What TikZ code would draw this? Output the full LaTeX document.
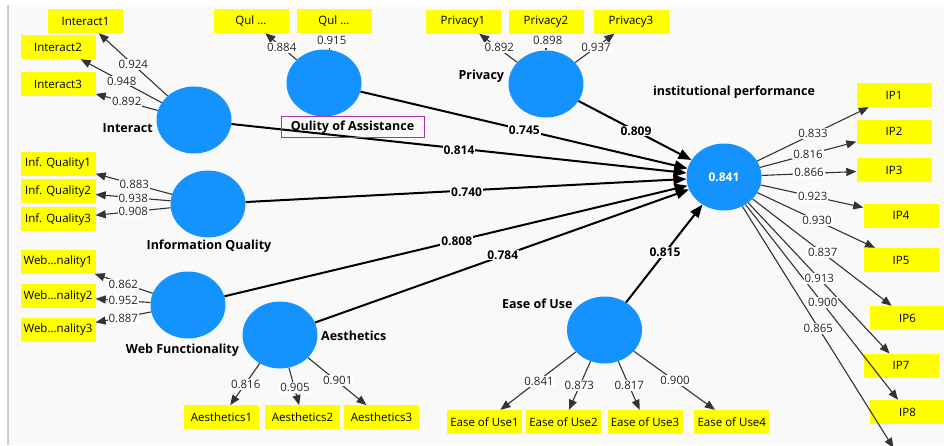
\documentclass[tikz,border=0pt]{standalone}
\usepackage{fontspec}
\setmainfont{Open Sans}
\usetikzlibrary{shapes.geometric,arrows.meta}
\definecolor{lvblue}{RGB}{20,147,255}
\definecolor{bggray}{RGB}{249,249,249}
\definecolor{framegray}{RGB}{205,205,205}
\definecolor{purp}{RGB}{165,50,170}
\definecolor{indyellow}{RGB}{255,255,0}
\begin{document}
\begin{tikzpicture}[x=1pt,y=-1pt,
  lv/.style={ellipse, fill=lvblue, minimum width=75pt, minimum height=67pt, inner sep=0pt},
  ind/.style={fill=indyellow, minimum width=75pt, minimum height=24pt, inner sep=0pt, font=\fontsize{11.5}{13}\selectfont},
  ldl/.style={fill=white, inner sep=1pt, font=\fontsize{11.5}{13}\selectfont, text=black!85},
  pcl/.style={fill=white, inner sep=1pt, font=\bfseries\fontsize{12}{14}\selectfont},
  ttl/.style={font=\bfseries\fontsize{12.5}{14}\selectfont, inner sep=0pt},
  ldar/.style={-{Triangle[length=10pt,width=8pt]}, line width=1.1pt, draw=black!80},
  star/.style={-{Triangle[length=13pt,width=10pt]}, line width=2pt, draw=black}
]
\useasboundingbox (0,0) rectangle (944,445);
\fill[white] (0,0) rectangle (944,445);
\fill[bggray] (8,5) rectangle (944,445);
\draw[framegray, line width=1.2pt] (8,5) -- (8,445);

% latent variables
\node[lv] (int)  at (194,120) {};
\node[lv] (qoa)  at (324,83) {};
\node[lv] (priv) at (546,84) {};
\node[lv] (ip)   at (724,177) {\textcolor{white}{\bfseries\fontsize{12}{14}\selectfont 0.841}};
\node[lv] (iq)   at (208,204) {};
\node[lv] (wf)   at (188,305) {};
\node[lv] (aes)  at (280,335) {};
\node[lv] (eou)  at (604.5,330) {};

% indicators
\node[ind] (i1) at (85.5,21) {Interact1};
\node[ind] (i2) at (58,47) {Interact2};
\node[ind] (i3) at (58,84) {Interact3};
\node[ind] (q1) at (251,21) {Qul ...};
\node[ind] (q2) at (334,21) {Qul ...};
\node[ind] (p1) at (463,21.5) {Privacy1};
\node[ind] (p2) at (546,21.5) {Privacy2};
\node[ind] (p3) at (631,21.5) {Privacy3};
\node[ind] (iq1) at (58,163.7) {Inf. Quality1};
\node[ind] (iq2) at (58,191.3) {Inf. Quality2};
\node[ind] (iq3) at (58,219) {Inf. Quality3};
\node[ind] (w1) at (58,261.7) {Web...nality1};
\node[ind] (w2) at (58,296.3) {Web...nality2};
\node[ind] (w3) at (58,329.5) {Web...nality3};
\node[ind] (a1) at (221.5,417.3) {Aesthetics1};
\node[ind] (a2) at (302.5,417.3) {Aesthetics2};
\node[ind] (a3) at (381.5,417.3) {Aesthetics3};
\node[ind] (e1) at (484.5,422) {Ease of Use1};
\node[ind] (e2) at (563.5,422) {Ease of Use2};
\node[ind] (e3) at (645,422) {Ease of Use3};
\node[ind] (e4) at (731.8,422) {Ease of Use4};
\node[ind] (ip1) at (894,95) {IP1};
\node[ind] (ip2) at (894,131.7) {IP2};
\node[ind] (ip3) at (894,170) {IP3};
\node[ind] (ip4) at (901,215.7) {IP4};
\node[ind] (ip5) at (901,260) {IP5};
\node[ind] (ip6) at (907.5,318) {IP6};
\node[ind] (ip7) at (901,365.7) {IP7};
\node[ind] (ip8) at (907.5,412) {IP8};
\coordinate (ip9) at (893.5,448);

% loading arrows
\foreach \a/\b in {int/i1,int/i2,int/i3,qoa/q1,qoa/q2,priv/p1,priv/p2,priv/p3,
  iq/iq1,iq/iq2,iq/iq3,wf/w1,wf/w2,wf/w3,aes/a1,aes/a2,aes/a3,
  eou/e1,eou/e2,eou/e3,eou/e4,ip/ip1,ip/ip2,ip/ip3,ip/ip4,ip/ip5,ip/ip6,ip/ip7,ip/ip8,ip/ip9}
  \draw[ldar] (\a) -- (\b);

% structural arrows
\foreach \a in {int,qoa,priv,iq,wf,aes,eou}
  \draw[star] (\a) -- (ip);

% titles
\node[ttl] (tint) at (127.7,128.3) {Interact};
\node[ttl, draw=purp, line width=0.9pt, minimum width=143pt, minimum height=21pt] (tqoa) at (352.5,127.2) {Qulity of Assistance};
\node[ttl] (tpriv) at (481.3,76.7) {Privacy};
\node[ttl] (tip) at (734,92.7) {institutional performance};
\node[ttl] (tiq) at (209,246.7) {Information Quality};
\node[ttl] (twf) at (182.5,350) {Web Functionality};
\node[ttl] (taes) at (353.7,336) {Aesthetics};
\node[ttl] (teou) at (537.3,303.3) {Ease of Use};

% loading labels
\node[ldl] (l1) at (133.3,64.3) {0.924};
\node[ldl] (l2) at (121.7,81) {0.948};
\node[ldl] (l3) at (126.7,101.7) {0.892};
\node[ldl] (l4) at (281.7,47.3) {0.884};
\node[ldl, inner ysep=3pt] (l5) at (331.7,40.5) {0.915};
\node[ldl] (l6) at (499.3,47.3) {0.892};
\node[ldl, inner ysep=3pt] (l7) at (547.7,40.5) {0.898};
\node[ldl] (l8) at (596,47) {0.937};
\node[ldl] (l9) at (134.3,184.3) {0.883};
\node[ldl] (l10) at (133.3,198.3) {0.938};
\node[ldl] (l11) at (133.3,211.7) {0.908};
\node[ldl] (l12) at (123.3,284) {0.862};
\node[ldl] (l13) at (123.3,300.7) {0.952};
\node[ldl] (l14) at (123.3,318.3) {0.887};
\node[ldl] (l15) at (245.7,384.3) {0.816};
\node[ldl] (l16) at (295,387.3) {0.905};
\node[ldl] (l17) at (337.7,380.7) {0.901};
\node[ldl] (l18) at (539,381.7) {0.841};
\node[ldl] (l19) at (579.3,385.7) {0.873};
\node[ldl] (l20) at (629.3,385.7) {0.817};
\node[ldl] (l21) at (675,380.7) {0.900};
\node[ldl] (l22) at (813,133.3) {0.833};
\node[ldl] (l23) at (808,154) {0.816};
\node[ldl] (l24) at (809,172.3) {0.866};
\node[ldl] (l25) at (812.7,196.7) {0.923};
\node[ldl] (l26) at (817,220.7) {0.930};
\node[ldl] (l27) at (822.7,252.3) {0.837};
\node[ldl] (l28) at (819.3,278.3) {0.913};
\node[ldl] (l29) at (822.7,302.7) {0.900};
\node[ldl] (l30) at (818.3,328.3) {0.865};

% path coefficients
\node[pcl] (c1) at (459,150) {0.814};
\node[pcl] (c2) at (524.3,130) {0.745};
\node[pcl] (c3) at (636,131) {0.809};
\node[pcl] (c4) at (466.6,192) {0.740};
\node[pcl] (c5) at (456.7,241) {0.808};
\node[pcl] (c6) at (502.7,255) {0.784};
\node[pcl] (c7) at (665,252.7) {0.815};
\end{tikzpicture}
\end{document}
